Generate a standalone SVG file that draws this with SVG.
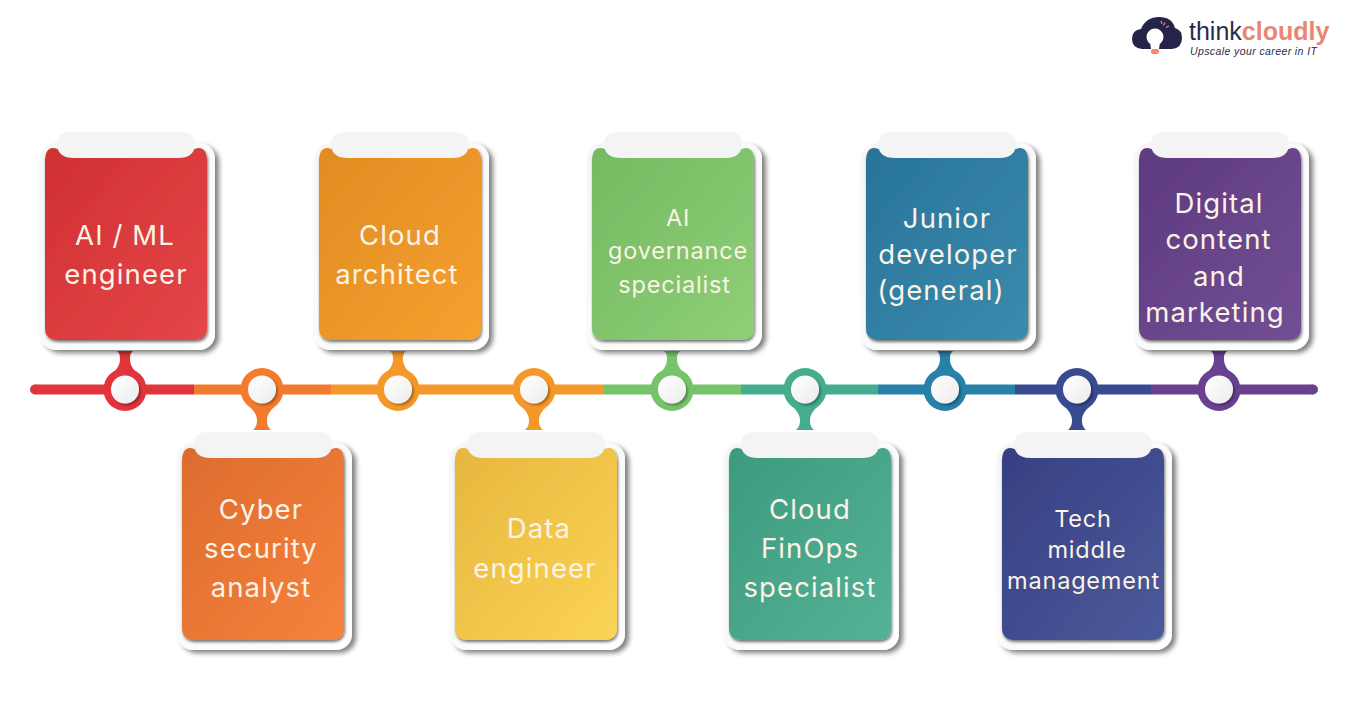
<svg xmlns="http://www.w3.org/2000/svg" width="1350" height="705" viewBox="0 0 1350 705">
<style>
.l{font-family:Inter,"Open Sans","Liberation Sans",sans-serif;fill:#fbf3e6;text-anchor:middle}
.b{font-size:27.5px;letter-spacing:1.1px}.s{font-size:23.500px;letter-spacing:.8px}
.tab{fill:#f4f4f4}.hole{fill:url(#holeG);filter:url(#shh)}
.seg{stroke-width:10;fill:none}
</style>
<defs>
<filter id="sh" x="-15%" y="-15%" width="130%" height="130%"><feGaussianBlur in="SourceAlpha" stdDeviation="2.500"/><feOffset dx="4" dy="3"/><feComponentTransfer><feFuncA type="linear" slope=".5"/></feComponentTransfer><feMerge><feMergeNode/><feMergeNode in="SourceGraphic"/></feMerge></filter>
<filter id="shb" x="-15%" y="-15%" width="130%" height="130%"><feGaussianBlur in="SourceAlpha" stdDeviation="1.500"/><feOffset dx="1" dy="2"/><feComponentTransfer><feFuncA type="linear" slope=".55"/></feComponentTransfer><feMerge><feMergeNode/><feMergeNode in="SourceGraphic"/></feMerge></filter>
<filter id="shh" x="-30%" y="-30%" width="160%" height="160%"><feGaussianBlur in="SourceAlpha" stdDeviation="1.200"/><feOffset dx="1.500" dy="1.500"/><feComponentTransfer><feFuncA type="linear" slope=".3"/></feComponentTransfer><feMerge><feMergeNode/><feMergeNode in="SourceGraphic"/></feMerge></filter>
<linearGradient id="holeG" x1="0" y1="0" x2="1" y2="1"><stop offset="0" stop-color="#ffffff"/><stop offset="1" stop-color="#ececec"/></linearGradient>
<linearGradient id="backG" x1="0" y1="0" x2="1" y2="1"><stop offset="0" stop-color="#f6f6f6"/><stop offset="1" stop-color="#ffffff"/></linearGradient>
<linearGradient id="g1" x1="0" y1="0" x2="1" y2="1"><stop offset="0" stop-color="#d03033"/><stop offset="1" stop-color="#e54649"/></linearGradient>
<linearGradient id="g2" x1="0" y1="0" x2="1" y2="1"><stop offset="0" stop-color="#dc6c2e"/><stop offset="1" stop-color="#f6823c"/></linearGradient>
<linearGradient id="g3" x1="0" y1="0" x2="1" y2="1"><stop offset="0" stop-color="#e08c22"/><stop offset="1" stop-color="#f6a030"/></linearGradient>
<linearGradient id="g4" x1="0" y1="0" x2="1" y2="1"><stop offset="0" stop-color="#e6b63e"/><stop offset="1" stop-color="#fbd455"/></linearGradient>
<linearGradient id="g5" x1="0" y1="0" x2="1" y2="1"><stop offset="0" stop-color="#75b961"/><stop offset="1" stop-color="#8ecf77"/></linearGradient>
<linearGradient id="g6" x1="0" y1="0" x2="1" y2="1"><stop offset="0" stop-color="#3c9a7f"/><stop offset="1" stop-color="#55b296"/></linearGradient>
<linearGradient id="g7" x1="0" y1="0" x2="1" y2="1"><stop offset="0" stop-color="#28739a"/><stop offset="1" stop-color="#3b8bad"/></linearGradient>
<linearGradient id="g8" x1="0" y1="0" x2="1" y2="1"><stop offset="0" stop-color="#373f82"/><stop offset="1" stop-color="#4b5a9a"/></linearGradient>
<linearGradient id="g9" x1="0" y1="0" x2="1" y2="1"><stop offset="0" stop-color="#5e3a80"/><stop offset="1" stop-color="#724f94"/></linearGradient>
<rect id="backing" x="-5" y="-5" width="175" height="207" rx="16" fill="url(#backG)" filter="url(#sh)"/>
<path id="body" d="M0 14Q0 0 8 0Q10 0 12 1L150 1Q152 0 154 0Q162 0 162 14V180Q162 192 149 192H13Q0 192 0 180Z" filter="url(#shb)"/>
<path id="tab" class="tab" d="M12 -3Q12 -16 26 -16H136Q150 -16 150 -3Q149 10 133 10H29Q13 10 12 -3Z"/>
<path id="stemUp" d="M-8 0C-5 3 -5 5 -5 8C-5 14 -8 18 -13 23H13C8 18 5 14 5 8C5 5 5 3 8 0Z"/>
<path id="stemDown" d="M-9 0C-6 -3 -5 -5 -5 -10C-5 -15 -8 -19 -13 -24H13C8 -19 5 -15 5 -10C5 -5 6 -3 9 0Z"/>
</defs>
<rect width="1350" height="705" fill="#ffffff"/>
<g id="connectors">
<path class="seg" stroke="#e1353b" d="M35 389.500H194"/>
<circle cx="35" cy="389.500" r="5" fill="#e1353b"/>
<path class="seg" stroke="#f37b2d" d="M194 389.500H331"/>
<path class="seg" stroke="#f5982a" d="M331 389.500H604"/>
<path class="seg" stroke="#76c46a" d="M604 389.500H741"/>
<path class="seg" stroke="#45ac8e" d="M741 389.500H878"/>
<path class="seg" stroke="#2781a8" d="M878 389.500H1015"/>
<path class="seg" stroke="#384a90" d="M1015 389.500H1151"/>
<path class="seg" stroke="#6a4190" d="M1151 389.500H1313"/>
<circle cx="1313" cy="389.500" r="5" fill="#6a4190"/>
<g id="stems">
<use href="#stemUp" x="125" y="351" fill="#e1353b"/>
<use href="#stemDown" x="262" y="430" fill="#f37b2d"/>
<use href="#stemUp" x="398" y="351" fill="#f5982a"/>
<use href="#stemDown" x="534" y="430" fill="#f5982a"/>
<use href="#stemUp" x="672" y="351" fill="#76c46a"/>
<use href="#stemDown" x="805" y="430" fill="#45ac8e"/>
<use href="#stemUp" x="945" y="351" fill="#2781a8"/>
<use href="#stemDown" x="1077" y="430" fill="#384a90"/>
<use href="#stemUp" x="1219" y="351" fill="#6a4190"/>
</g>
<g id="rings">
<circle cx="125" cy="389.500" r="21.500" fill="#e1353b"/><circle class="hole" cx="125" cy="389.500" r="14"/>
<circle cx="262" cy="389.500" r="21.500" fill="#f37b2d"/><circle class="hole" cx="262" cy="389.500" r="14"/>
<circle cx="398" cy="389.500" r="21.500" fill="#f5982a"/><circle class="hole" cx="398" cy="389.500" r="14"/>
<circle cx="534" cy="389.500" r="21.500" fill="#f5982a"/><circle class="hole" cx="534" cy="389.500" r="14"/>
<circle cx="672" cy="389.500" r="21.500" fill="#76c46a"/><circle class="hole" cx="672" cy="389.500" r="14"/>
<circle cx="805" cy="389.500" r="21.500" fill="#45ac8e"/><circle class="hole" cx="805" cy="389.500" r="14"/>
<circle cx="945" cy="389.500" r="21.500" fill="#2781a8"/><circle class="hole" cx="945" cy="389.500" r="14"/>
<circle cx="1077" cy="389.500" r="21.500" fill="#384a90"/><circle class="hole" cx="1077" cy="389.500" r="14"/>
<circle cx="1219" cy="389.500" r="21.500" fill="#6a4190"/><circle class="hole" cx="1219" cy="389.500" r="14"/>
</g>
</g>
<g id="n1" transform="translate(45 148)"><use href="#backing"/><use href="#body" fill="url(#g1)"/><use href="#tab"/><text class="l b" x="80" y="97">AI / ML</text><text class="l b" x="81" y="136">engineer</text></g>
<g id="n2" transform="translate(182 448)"><use href="#backing"/><use href="#body" fill="url(#g2)"/><use href="#tab"/><text class="l b" x="79" y="71">Cyber</text><text class="l b" x="79" y="110">security</text><text class="l b" x="79" y="149">analyst</text></g>
<g id="n3" transform="translate(319 148)"><use href="#backing"/><use href="#body" fill="url(#g3)"/><use href="#tab"/><text class="l b" x="81" y="97">Cloud</text><text class="l b" x="78" y="136">architect</text></g>
<g id="n4" transform="translate(455 448)"><use href="#backing"/><use href="#body" fill="url(#g4)"/><use href="#tab"/><text class="l b" x="84" y="90">Data</text><text class="l b" x="80" y="130">engineer</text></g>
<g id="n5" transform="translate(592 148)"><use href="#backing"/><use href="#body" fill="url(#g5)"/><use href="#tab"/><text class="l s" x="86" y="78">AI</text><text class="l s" x="86" y="111">governance</text><text class="l s" x="82.500" y="145">specialist</text></g>
<g id="n6" transform="translate(729 448)"><use href="#backing"/><use href="#body" fill="url(#g6)"/><use href="#tab"/><text class="l b" x="81" y="71">Cloud</text><text class="l b" x="81" y="110">FinOps</text><text class="l b" x="81" y="149">specialist</text></g>
<g id="n7" transform="translate(866 148)"><use href="#backing"/><use href="#body" fill="url(#g7)"/><use href="#tab"/><text class="l b" x="81" y="80">Junior</text><text class="l b" x="82" y="116">developer</text><text class="l b" x="75" y="152">(general)</text></g>
<g id="n8" transform="translate(1002 448)"><use href="#backing"/><use href="#body" fill="url(#g8)"/><use href="#tab"/><text class="l s" x="81" y="79">Tech</text><text class="l s" x="85" y="110">middle</text><text class="l s" x="81.500" y="141">management</text></g>
<g id="n9" transform="translate(1139 148)"><use href="#backing"/><use href="#body" fill="url(#g9)"/><use href="#tab"/><text class="l b" x="80" y="65">Digital</text><text class="l b" x="79.500" y="101">content</text><text class="l b" x="80" y="138">and</text><text class="l b" x="76" y="174">marketing</text></g>
<g id="logo">
<path fill="#232447" d="M1142 49Q1132 48 1132 39Q1132 30 1141 29Q1146 17 1159 17Q1172 17 1175 28Q1182 30 1182 38Q1182 48 1172 49Z"/>
<circle cx="1155" cy="37" r="8.500" fill="#fff"/>
<path fill="#fff" d="M1150 42H1160L1159 49H1151Z"/>
<rect x="1151" y="49" width="8" height="5" rx="2" fill="#f08a72"/>
<path stroke="#f08a72" stroke-width="1.200" fill="none" d="M1161 21l1 3M1165 22.500l-1.500 3M1169 26l-3 1.500"/>
<text x="1189" y="39.500" font-family="'Liberation Sans',sans-serif" font-size="25" fill="#2a2b4a">think<tspan fill="#ea8672" font-weight="700">cloudly</tspan></text>
<text x="1190" y="55" font-family="'Liberation Sans',sans-serif" font-size="10.500" font-style="italic" letter-spacing=".4" fill="#2a2b4a">Upscale your career in IT</text>
</g>
</svg>
